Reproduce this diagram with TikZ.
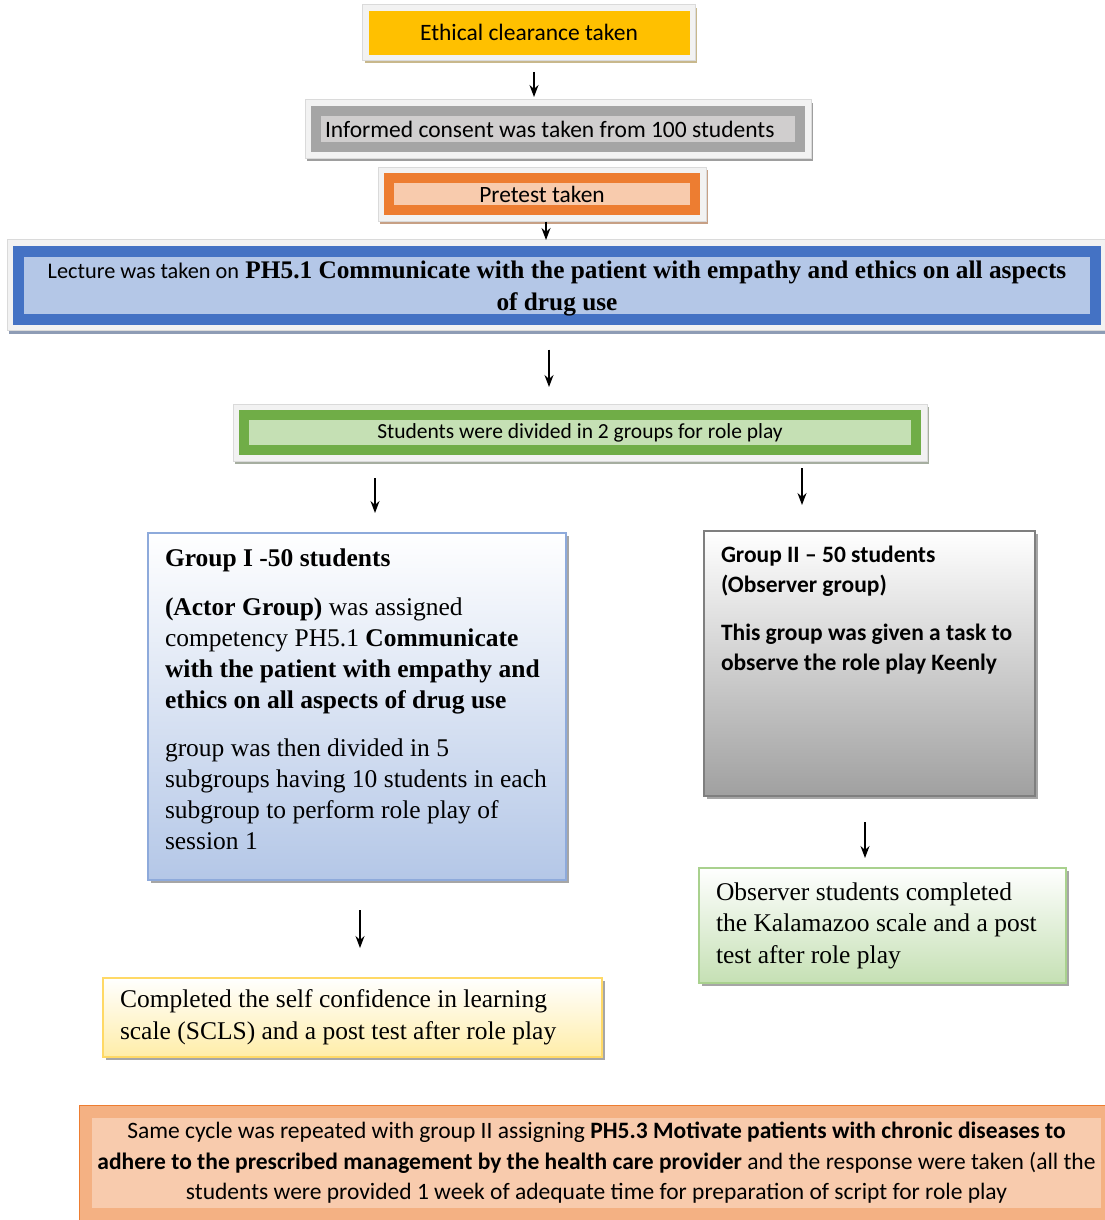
\documentclass[tikz,border=0pt]{standalone}
\usepackage{fontspec}
\setmainfont{Liberation Serif}
\newfontfamily\calibri{Carlito}
\usepackage{tikz}
\usetikzlibrary{arrows.meta}
\usetikzlibrary{shadows}

\definecolor{clryellow}{HTML}{FFC000}
\definecolor{clrsilver}{HTML}{A5A5A5}
\definecolor{clrsilverin}{HTML}{D0CECE}
\definecolor{clrorange}{HTML}{ED7D31}
\definecolor{clrpeach}{HTML}{F8CBAD}
\definecolor{clrsalmon}{HTML}{F4B183}
\definecolor{clrblue}{HTML}{4472C4}
\definecolor{clrbluein}{HTML}{B4C7E7}
\definecolor{clrblueline}{HTML}{8EAADB}
\definecolor{clrgreen}{HTML}{70AD47}
\definecolor{clrgreenin}{HTML}{C5E0B4}
\definecolor{clrgreenline}{HTML}{A9D18E}
\definecolor{clrgold}{HTML}{FFD966}
\definecolor{clrgoldin}{HTML}{FFEDA8}
\definecolor{clrgrayline}{HTML}{7F7F7F}
\definecolor{clrgrayin}{HTML}{A0A0A0}
\definecolor{clrframe}{HTML}{F2F2F2}
\definecolor{clredge}{HTML}{DADADA}
\definecolor{clrtan}{HTML}{C8B88C}
\definecolor{clrshgray}{HTML}{9E9E9E}
\definecolor{clrbrown}{HTML}{C7A085}
\definecolor{clrshblue}{HTML}{8E9CB5}
\definecolor{clrshgreen}{HTML}{A6AEA0}

\tikzset{
  framebox/.style n args={4}{fill=#1, draw=#2, line width=#3,
    preaction={draw=#4, line width=#3+12pt, transform canvas={shift={(2pt,-3pt)}}},
    preaction={draw=clredge, line width=#3+13pt},
    preaction={draw=clrframe, line width=#3+11pt}},
  shadebox/.style 2 args={draw=#1, line width=2pt, top color=white,
    middle color=#2!30!white, bottom color=#2,
    drop shadow={shadow xshift=3pt, shadow yshift=-3pt, fill=black!35, opacity=1}},
}

\begin{document}
\begin{tikzpicture}[x=1pt, y=-1pt, ->, >={Stealth[length=12pt, width=9pt]}, line width=1.3pt]
    \tikzstyle{every node}=[outer sep=0pt, inner sep=0pt, text=black]
    \useasboundingbox (0,0) rectangle (1104,1220);

    % top chain
    \node[framebox={clryellow}{clryellow}{0.1pt}{clrtan}, minimum width=320pt, minimum height=43pt,
          font=\calibri\fontsize{23.5}{28}\selectfont] (ethical) at (529,32.5) {Ethical clearance taken};
    \node[framebox={clrsilverin}{clrsilver}{10pt}{clrshgray}, minimum width=484pt, minimum height=36pt,
          font=\calibri\fontsize{23.5}{28}\selectfont] (consent) at (558,129)
          {\parbox{466pt}{\raggedright Informed consent was taken from 100 students}};
    \node[framebox={clrpeach}{clrorange}{10pt}{clrbrown}, minimum width=306pt, minimum height=32pt,
          font=\calibri\fontsize{23.4}{28}\selectfont] (pretest) at (542,194) {Pretest taken};
    \node[framebox={clrbluein}{clrblue}{11pt}{clrshblue}, minimum width=1077pt, minimum height=68pt, align=center,
          font=\fontsize{25.3}{32}\selectfont] (lecture) at (557,285)
          {\rule{0pt}{25pt}{\calibri\fontsize{22.3}{32}\selectfont Lecture was taken on} \textbf{PH5.1 Communicate with the patient with empathy and ethics on all aspects}\\
           \textbf{of drug use}};
    \node[framebox={clrgreenin}{clrgreen}{10pt}{clrshgreen}, minimum width=672pt, minimum height=35pt,
          font=\calibri\fontsize{21.5}{26}\selectfont] (divided) at (580,432.5) {Students were divided in 2 groups for role play};

    % the two groups
    \node[shadebox={clrblueline}{clrbluein}, minimum width=418pt, minimum height=347pt,
          font=\fontsize{25.5}{31}\selectfont] (groupone) at (357,706.5)
          {\parbox{384pt}{\raggedright
           \textbf{Group I -50 students}\\[18pt]
           \textbf{(Actor Group)} was assigned\\
           competency PH5.1 \textbf{Communicate}\\
           \textbf{with the patient with empathy and}\\
           \textbf{ethics on all aspects of drug use}\\[17pt]
           group was then divided in 5\\
           subgroups having 10 students in each\\
           subgroup to perform role play of\\
           session 1\\[14pt]}};
    \node[shadebox={clrgrayline}{clrgrayin}, inner xsep=17pt, inner ysep=15pt,
          font=\calibri\bfseries\fontsize{23.5}{30}\selectfont] (grouptwo) at (869.5,663.5)
          {\parbox[c][235pt][t]{297pt}{\raggedright
           Group II – 50 students\\
           (Observer group)\\[18pt]
           This group was given a task to\\
           observe the role play Keenly}};
    \node[shadebox={clrgreenline}{clrgreenin}, minimum width=367pt, minimum height=115pt,
          font=\fontsize{25.5}{31.5}\selectfont] (observer) at (882.5,925.5)
          {\parbox{333pt}{\raggedright
           Observer students completed\\
           the Kalamazoo scale and a post\\
           test after role play}};
    \node[shadebox={clrgold}{clrgoldin}, minimum width=499pt, minimum height=79pt,
          font=\fontsize{25.5}{32}\selectfont] (completed) at (352.5,1017.5)
          {\parbox{465pt}{\raggedright
           Completed the self confidence in learning\\
           scale (SCLS) and a post test after role play}};

    % repeat cycle
    \node[fill=clrpeach, draw=clrsalmon, line width=12pt,
          preaction={draw=clrorange, line width=14pt},
          minimum width=1021pt, minimum height=102pt, align=center,
          font=\calibri\fontsize{23.5}{30.5}\selectfont] (cycle) at (596.5,1163)
          {Same cycle was repeated with group II assigning \textbf{PH5.3 Motivate patients with chronic diseases to}\\
           \textbf{adhere to the prescribed management by the health care provider} and the response were taken (all the\\
           students were provided 1 week of adequate time for preparation of script for role play};

    \draw[shorten <=18pt, shorten >=14pt] ([xshift=5pt]ethical.south) -- ([xshift=5pt]ethical.south |- consent.north);
    \draw[shorten <=11.5pt, shorten >=11pt] ([xshift=4pt]pretest.south) -- ([xshift=4pt]pretest.south |- lecture.north);
    \draw[shorten <=30.5pt, shorten >=28pt] ([xshift=-8pt]lecture.south) -- ([xshift=-8pt]lecture.south |- divided.north);
    \draw[shorten <=28pt, shorten >=20pt] ([xshift=18pt]groupone.north |- divided.south) -- ([xshift=18pt]groupone.north);
    \draw[shorten <=18pt, shorten >=26pt] ([xshift=-67.5pt]grouptwo.north |- divided.south) -- ([xshift=-67.5pt]grouptwo.north);
    \draw[shorten <=26pt, shorten >=10pt] ([xshift=-4.5pt]grouptwo.south) -- ([xshift=-4.5pt]grouptwo.south |- observer.north);
    \draw[shorten <=30pt, shorten >=30pt] ([xshift=3pt]groupone.south) -- ([xshift=3pt]groupone.south |- completed.north);
\end{tikzpicture}
\end{document}
